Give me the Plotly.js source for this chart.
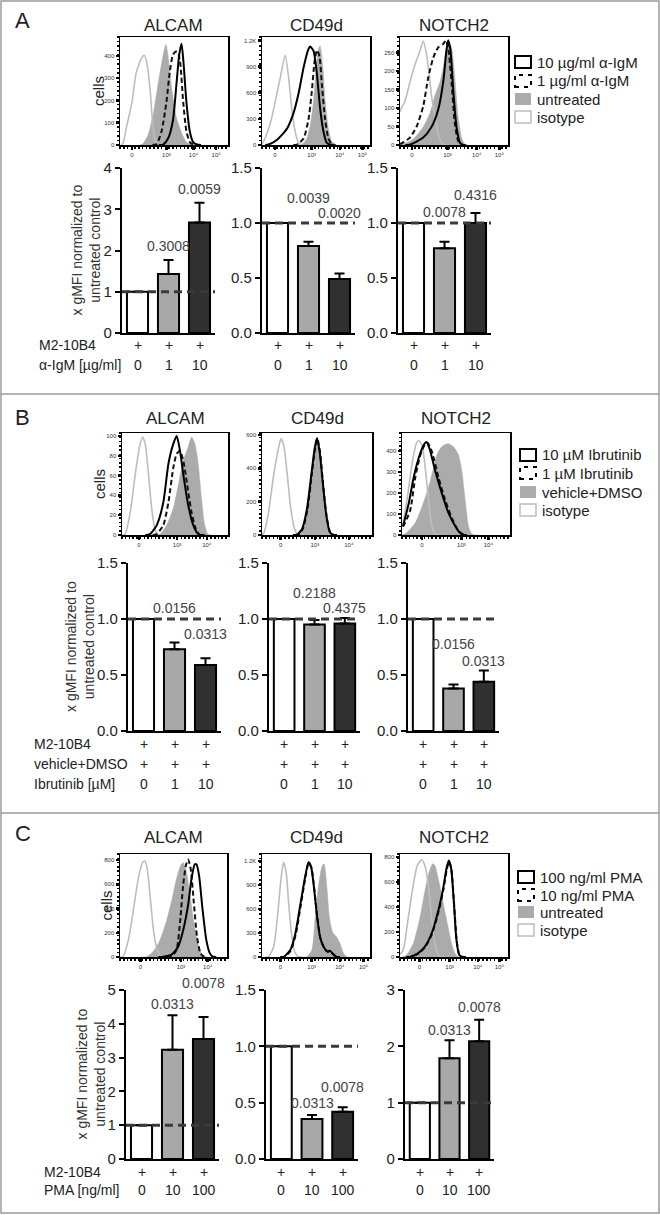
<!DOCTYPE html>
<html><head><meta charset="utf-8">
<script src="https://cdn.plot.ly/plotly-3.0.1.min.js"></script>
<style>html,body{margin:0;padding:0;background:#fff}#chart{width:660px;height:1215px}</style>
</head><body><div id="chart"></div>
<script>
// ================= DATA =================
const panelLetters = ['A', 'B', 'C'];
const markerNames = ['ALCAM', 'CD49d', 'NOTCH2'];

const legendA = ['10 µg/ml α-IgM', '1 µg/ml α-IgM', 'untreated', 'isotype'];
const legendB = ['10 µM Ibrutinib', '1 µM Ibrutinib', 'vehicle+DMSO', 'isotype'];
const legendC = ['100 ng/ml PMA', '10 ng/ml PMA', 'untreated', 'isotype'];

const rowLabelsA = ['M2-10B4', 'α-IgM [µg/ml]'];
const rowValuesA = [['+', '+', '+'], ['0', '1', '10']];
const rowLabelsB = ['M2-10B4', 'vehicle+DMSO', 'Ibrutinib [µM]'];
const rowValuesB = [['+', '+', '+'], ['+', '+', '+'], ['0', '1', '10']];
const rowLabelsC = ['M2-10B4', 'PMA [ng/ml]'];
const rowValuesC = [['+', '+', '+'], ['0', '10', '100']];

// bar charts: mean, upper error, p-values
const barA_ALCAM = [1, 1.43, 2.68], errA_ALCAM = [0, 0.34, 0.48], pA_ALCAM = ['', '0.3008', '0.0059'];
const barA_CD49d = [1, 0.79, 0.49], errA_CD49d = [0, 0.04, 0.05], pA_CD49d = ['', '0.0039', '0.0020'];
const barA_NOTCH2 = [1, 0.77, 1.0], errA_NOTCH2 = [0, 0.06, 0.09], pA_NOTCH2 = ['', '0.0078', '0.4316'];
const barB_ALCAM = [1, 0.73, 0.59], errB_ALCAM = [0, 0.06, 0.06], pB_ALCAM = ['', '0.0156', '0.0313'];
const barB_CD49d = [1, 0.95, 0.96], errB_CD49d = [0, 0.04, 0.05], pB_CD49d = ['', '0.2188', '0.4375'];
const barB_NOTCH2 = [1, 0.38, 0.44], errB_NOTCH2 = [0, 0.035, 0.10], pB_NOTCH2 = ['', '0.0156', '0.0313'];
const barC_ALCAM = [1, 3.23, 3.55], errC_ALCAM = [0, 1.02, 0.65], pC_ALCAM = ['', '0.0313', '0.0078'];
const barC_CD49d = [1, 0.355, 0.42], errC_CD49d = [0, 0.035, 0.04], pC_CD49d = ['', '0.0313', '0.0078'];
const barC_NOTCH2 = [1, 1.79, 2.09], errC_NOTCH2 = [0, 0.32, 0.38], pC_NOTCH2 = ['', '0.0313', '0.0078'];
const refLine = 1;

// bar y-axis ticks
const barYTicksA = [[0, 1, 2, 3, 4], [0, 0.5, 1, 1.5], [0, 0.5, 1, 1.5]];
const barYTicksB = [[0, 0.5, 1, 1.5], [0, 0.5, 1, 1.5], [0, 0.5, 1, 1.5]];
const barYTicksC = [[0, 1, 2, 3, 4, 5], [0, 0.5, 1, 1.5], [0, 1, 2, 3]];

// histogram tick labels
const histXTickText = ['0', '10³', '10⁴', '10⁵'];
const histYTicksA = [[0, 100, 200, 300, 400], [0, 300, 600, 900, 1200], [0, 50, 100, 150, 200, 250]];
const histYTicksB = [[0, 20, 40, 60, 80, 100], [0, 200, 400, 600], [0, 100, 200, 300, 400]];
const histYTicksC = [[0, 200, 400, 600, 800], [0, 300, 600, 900, 1200], [0, 200, 400, 600, 800]];

// histogram curves (x: position along fluorescence axis, 0-100; y: cells)
const hA_ALCAM = {
  iso:  {x: [1, 3, 6, 11, 15, 20, 22.5, 25, 28, 30, 32, 34.5, 38], y: [0, 10, 80, 190, 325, 390, 403, 365, 240, 110, 30, 0, 0]},
  ctrl: {x: [18, 21, 26, 31, 34, 37, 40, 42.5, 44.5, 47.7, 52, 57, 61.5, 66, 70], y: [0, 5, 45, 145, 235, 325, 405, 452, 400, 260, 128, 55, 13, 2, 0]},
  low:  {x: [30, 34, 38.5, 43, 46, 49, 51.7, 53.8, 56, 58.5, 61.5, 64.6, 67.7, 71], y: [0, 5, 62, 193, 325, 405, 420, 415, 357, 193, 62, 13, 2, 0]},
  high: {x: [36, 40, 44.6, 49, 52.3, 54.8, 57, 59, 61.5, 64.6, 67.7, 71.4, 75], y: [0, 2, 30, 110, 275, 405, 455, 357, 193, 62, 13, 2, 0]}
};
const hA_CD49d = {
  iso:  {x: [0, 1.5, 7.7, 12.3, 17, 21.5, 24.6, 27.7, 30.8, 33.8, 37], y: [10, 40, 250, 500, 780, 1030, 780, 400, 150, 25, 0]},
  ctrl: {x: [34, 37, 41.5, 44.6, 47.7, 50, 52.3, 53.8, 56.3, 58.5, 61.5, 64.6, 69], y: [0, 5, 75, 220, 500, 850, 1100, 1140, 900, 500, 185, 40, 0]},
  low:  {x: [29, 32.3, 38.5, 43, 46, 48.6, 50.8, 53.2, 55.4, 58.5, 61.5, 64.6, 68], y: [0, 5, 75, 290, 600, 950, 1090, 1020, 700, 290, 75, 10, 0]},
  high: {x: [3, 6, 14, 23, 29, 34, 38.5, 43, 44.6, 47.7, 50.8, 54, 57, 60, 63, 66], y: [0, 5, 60, 185, 360, 600, 890, 1100, 1130, 1080, 820, 400, 150, 25, 5, 0]}
};
const hA_NOTCH2 = {
  iso:  {x: [0, 0.6, 4.6, 9.2, 13.8, 18.5, 21.5, 24.6, 27, 29.2, 32.3, 35.4, 38.5, 41.5, 45], y: [90, 95, 119, 170, 217, 255, 281, 245, 190, 133, 77, 30, 7, 0, 0]},
  ctrl: {x: [0, 3, 12.3, 21.5, 27.7, 32.3, 37, 40, 43, 45.5, 47.7, 50.8, 53.8, 57, 60, 63], y: [0, 2, 16, 49, 86, 133, 170, 208, 264, 278, 264, 180, 77, 20, 2, 0]},
  low:  {x: [0, 3, 9.2, 15.4, 21.5, 26, 30.8, 35.4, 40, 42.5, 44.6, 47.7, 50.8, 53.8, 57, 60], y: [2, 7, 20, 50, 105, 180, 236, 264, 273, 283, 264, 170, 58, 11, 0, 0]},
  high: {x: [5, 9.2, 21.5, 29.2, 35.4, 40, 43, 44.6, 46.8, 49.2, 52.3, 55.4, 58.5, 61], y: [0, 1, 20, 49, 96, 170, 255, 283, 255, 152, 49, 7, 0, 0]}
};
const hB_ALCAM = {
  iso:  {x: [0, 3, 7.8, 12.5, 16.5, 19.4, 21.9, 25, 28, 31, 34.4, 38], y: [0, 1, 23, 61, 89, 99, 92, 61, 27, 6, 0, 0]},
  ctrl: {x: [32, 36, 42.2, 48.4, 53, 57.8, 62.5, 65.6, 68.8, 71.9, 75, 78, 81, 84], y: [0, 1, 10, 27, 50, 75, 89, 99, 92, 72, 37, 10, 1, 0]},
  low:  {x: [29, 32.8, 39, 43.8, 48.4, 51.6, 54.7, 57.8, 61.6, 65.6, 69.7, 73.4, 77], y: [0, 1, 10, 33, 68, 82, 85, 75, 50, 23, 6, 0, 0]},
  high: {x: [22, 26.5, 32.8, 39, 43.8, 48.4, 51.6, 54.7, 58.4, 62.5, 67.2, 71.9, 75, 78], y: [0, 1, 10, 33, 72, 92, 100, 85, 57, 30, 10, 1, 0, 0]}
};
const hB_CD49d = {
  iso:  {x: [0, 2, 6, 10.6, 15, 17.3, 19.7, 22.7, 25.8, 28.8, 31.8, 34.8, 38], y: [0, 16, 137, 360, 521, 578, 541, 380, 178, 57, 6, 0, 0]},
  ctrl: {x: [30, 31.8, 36.4, 40.9, 44.8, 47.9, 50, 52.4, 55.5, 58.5, 61.5, 64.5, 68], y: [0, 0, 30, 150, 350, 510, 575, 500, 290, 110, 18, 0, 0]},
  low:  {x: [30, 33, 37, 41.5, 45.2, 48.2, 50.3, 52.8, 55.8, 58.8, 61.8, 64.8, 68], y: [0, 2, 35, 160, 360, 515, 578, 495, 285, 110, 20, 2, 0]},
  high: {x: [28, 31.8, 36.4, 40.9, 44.8, 47.9, 50, 52.4, 55.5, 58.5, 61.5, 64.5, 68], y: [0, 2, 36, 158, 360, 521, 582, 500, 299, 117, 20, 2, 0]}
};
const hB_NOTCH2 = {
  iso:  {x: [0, 1, 4.6, 9.2, 13.2, 15.4, 18.5, 21.5, 24.6, 27.7, 30.8, 33.8, 37], y: [40, 58, 166, 335, 435, 450, 428, 320, 166, 43, 5, 0, 0]},
  ctrl: {x: [0, 4.6, 12.3, 18.5, 24.6, 29.2, 32.3, 35.4, 38.5, 43, 47.7, 52.3, 55.4, 58.5, 61.5, 64.6, 67.7, 71], y: [0, 12, 58, 135, 228, 320, 382, 412, 428, 435, 420, 382, 305, 166, 43, 5, 0, 0]},
  low:  {x: [1, 3, 7.7, 12.3, 17, 21.5, 23.7, 27.7, 33.8, 40, 46.2, 52.3, 57, 60], y: [40, 60, 120, 274, 382, 435, 440, 397, 274, 166, 80, 20, 2, 0]},
  high: {x: [1, 6.2, 10.8, 15.4, 20, 22.5, 25.5, 30.8, 37, 43, 49.2, 53.8, 57, 60], y: [43, 150, 274, 366, 428, 443, 412, 305, 197, 105, 43, 9, 0, 0]}
};
const hC_ALCAM = {
  iso:  {x: [0, 3, 7.8, 12.4, 17, 21, 23.3, 25.5, 28.6, 31.7, 34.8, 37.9, 40.4, 44], y: [0, 5, 139, 379, 645, 779, 792, 725, 459, 192, 59, 11, 0, 0]},
  ctrl: {x: [20, 24.8, 31, 37.3, 43.5, 48.1, 52.8, 56.5, 59, 61.5, 64.6, 68.3, 72, 76, 80.7, 84], y: [0, 2, 45, 139, 299, 459, 645, 752, 779, 725, 565, 325, 139, 32, 2, 0]},
  low:  {x: [44, 48.1, 52.8, 56.5, 59, 61.5, 63.7, 66.1, 68.9, 72, 75.2, 78.3, 81], y: [0, 2, 59, 325, 592, 752, 805, 725, 459, 165, 32, 2, 0]},
  high: {x: [36, 40.4, 48.1, 54.3, 59, 63.7, 66.8, 69.9, 71.4, 73.9, 77, 80.7, 83.9, 87, 90], y: [0, 2, 19, 85, 219, 432, 645, 765, 765, 672, 405, 139, 32, 2, 0]}
};
const hC_CD49d = {
  iso:  {x: [3, 6.2, 10.8, 14.8, 17.5, 20, 22.5, 24.6, 27.7, 30.8, 33.8, 37], y: [0, 5, 128, 568, 968, 1188, 1048, 688, 248, 48, 5, 0]},
  ctrl: {x: [38, 41.5, 46.2, 49.2, 52.3, 55.4, 57.5, 60, 62.5, 65.5, 69.2, 72.3, 75.4, 78.5, 81], y: [0, 2, 88, 488, 888, 1128, 1168, 888, 488, 308, 248, 168, 48, 2, 0]},
  low:  {x: [17, 20.5, 26.5, 31.2, 35.8, 40.2, 43.2, 45.7, 48.5, 51, 54, 57.2, 60.8, 63.2, 65.7, 69.4, 72], y: [0, 2, 80, 280, 640, 1000, 1180, 1120, 840, 520, 240, 125, 65, 75, 38, 2, 0]},
  high: {x: [17, 20, 26.2, 30.8, 35.4, 40, 43, 45.5, 48.3, 50.8, 53.8, 57, 60.6, 63, 65.5, 69.2, 72], y: [0, 2, 88, 288, 648, 1008, 1188, 1128, 848, 528, 248, 128, 68, 80, 40, 2, 0]}
};
const hC_NOTCH2 = {
  iso:  {x: [0, 3, 7.7, 12.3, 16, 20, 23, 26.2, 29.2, 32.3, 35.4, 38.5, 42], y: [20, 57, 317, 577, 733, 780, 733, 577, 317, 109, 18, 0, 0]},
  ctrl: {x: [2, 6.2, 12.3, 18.5, 23, 27, 30.2, 32.3, 35.4, 38.5, 41.5, 44.6, 47.7, 50.8, 53.8, 57], y: [0, 18, 109, 317, 525, 681, 746, 733, 629, 499, 369, 239, 109, 31, 2, 0]},
  low:  {x: [6, 9.5, 17.2, 23.3, 29.5, 35.7, 40.3, 43.3, 45.4, 47.6, 50, 52.5, 55, 58, 61], y: [0, 1, 28, 80, 182, 362, 545, 700, 765, 700, 440, 130, 16, 1, 0]},
  high: {x: [6, 9.2, 16.9, 23, 29.2, 35.4, 40, 43, 45.2, 47.4, 49.8, 52.3, 54.8, 57.8, 61], y: [0, 1, 31, 83, 187, 369, 551, 707, 772, 707, 447, 135, 18, 1, 0]}
};

// ================= LAYOUT CONFIG (pixel geometry & styles) =================
const W = 660, H = 1215;
const PX = x => x / W;
const PY = y => 1 - y / H;
const FONT = 'Arial, "Liberation Sans", Helvetica, sans-serif';

const panels = [
  {letterY: 21, titleY: 25, hTop: 37, hBot: 145, bTop: 168, bBot: 333, rowsY: [345, 365], rowLabelX: 37,
   legX: 515, legY: [62, 81, 99, 117], hx: [[120, 228], [262, 370], [400, 508]], bx: [[122, 215], [262, 355], [398, 491]],
   ytX: 86, cellsX: 99, yRange: [485, 1240, 292], xt: [[11, 43, 68, 89], [12, 46, 72, 93], [11, 44, 71, 92]],
   bRange: [4, 1.5, 1.5], pY: [[0, 2.1, 3.48], [0, 1.23, 1.09], [0, 1.10, 1.25]]},
  {letterY: 417, titleY: 418, hTop: 433, hBot: 535, bTop: 563, bBot: 731, rowsY: [744, 764, 784], rowLabelX: 32,
   legX: 520, legY: [455, 473, 492, 510], hx: [[122, 228], [262, 372], [402, 510]], bx: [[128, 221], [269, 360], [408, 499]],
   ytX: 80, cellsX: 99, yRange: [103, 612, 486], xt: [[16, 52, 80], [17, 48, 79], [18.5, 55, 80]],
   bRange: [1.5, 1.5, 1.5], pY: [[0, 1.10, 0.865], [0, 1.235, 1.10], [0, 0.776, 0.624]]},
  {letterY: 833, titleY: 838, hTop: 854, hBot: 957, bTop: 990, bBot: 1159, rowsY: [1172, 1190], rowLabelX: 42,
   legX: 518, legY: [877, 895, 912, 930], hx: [[120, 227], [262, 370], [400, 508]], bx: [[126, 219], [266, 358], [405, 494]],
   ytX: 90, cellsX: 106, yRange: [850, 1290, 825], xt: [[19, 57, 82], [17, 46, 72, 94], [18, 46, 72, 92]],
   bRange: [5, 1.5, 3], pY: [[0, 4.6, 5.22], [0, 0.497, 0.64], [0, 2.29, 2.69]]}
];

const hists = [[hA_ALCAM, hA_CD49d, hA_NOTCH2], [hB_ALCAM, hB_CD49d, hB_NOTCH2], [hC_ALCAM, hC_CD49d, hC_NOTCH2]];
const histYTicks = [histYTicksA, histYTicksB, histYTicksC];
const bars = [[barA_ALCAM, barA_CD49d, barA_NOTCH2], [barB_ALCAM, barB_CD49d, barB_NOTCH2], [barC_ALCAM, barC_CD49d, barC_NOTCH2]];
const errs = [[errA_ALCAM, errA_CD49d, errA_NOTCH2], [errB_ALCAM, errB_CD49d, errB_NOTCH2], [errC_ALCAM, errC_CD49d, errC_NOTCH2]];
const pvals = [[pA_ALCAM, pA_CD49d, pA_NOTCH2], [pB_ALCAM, pB_CD49d, pB_NOTCH2], [pC_ALCAM, pC_CD49d, pC_NOTCH2]];
const barYTicks = [barYTicksA, barYTicksB, barYTicksC];
const legends = [legendA, legendB, legendC];
const rowLabels = [rowLabelsA, rowLabelsB, rowLabelsC];
const rowValues = [rowValuesA, rowValuesB, rowValuesC];

const C_FILL = '#ababab', C_ISO = '#bdbdbd', C_BAR = ['#ffffff', '#a8a8a8', '#303030'];

const traces = [];
const layout = {
  width: W, height: H, margin: {l: 0, r: 0, t: 0, b: 0},
  paper_bgcolor: '#fff', plot_bgcolor: 'rgba(0,0,0,0)', showlegend: false,
  font: {family: FONT, color: '#222'},
  annotations: [], shapes: []
};
const ax = n => (n === 1 ? '' : String(n));

function fmtTick(v, decimals) { return decimals ? v.toFixed(1) : String(v); }

panels.forEach((P, p) => {
  layout.annotations.push({text: panelLetters[p], x: PX(13), y: PY(P.letterY), xref: 'paper', yref: 'paper',
    xanchor: 'left', yanchor: 'middle', showarrow: false, font: {size: 22, color: '#222'}});
  layout.annotations.push({text: 'cells', x: PX(P.cellsX), y: PY((P.hTop + P.hBot) / 2), xref: 'paper', yref: 'paper',
    xanchor: 'center', yanchor: 'middle', textangle: -90, showarrow: false, font: {size: 15, color: '#222'}});
  layout.annotations.push({text: 'x gMFI normalized to<br>untreated control', x: PX(P.ytX), y: PY((P.bTop + P.bBot) / 2),
    xref: 'paper', yref: 'paper', xanchor: 'center', yanchor: 'middle', textangle: -90, showarrow: false,
    font: {size: 14, color: '#333'}});

  markerNames.forEach((name, m) => {
    const hn = p * 3 + m + 1, bn = hn + 9;
    const [hx0, hx1] = P.hx[m];
    layout.annotations.push({text: name, x: PX((hx0 + hx1) / 2), y: PY(P.titleY), xref: 'paper', yref: 'paper',
      xanchor: 'center', yanchor: 'middle', showarrow: false, font: {size: 17, color: '#222'}});
    const h = hists[p][m];
    const common = {xaxis: 'x' + ax(hn), yaxis: 'y' + ax(hn), mode: 'lines', hoverinfo: 'skip'};
    traces.push(Object.assign({x: h.ctrl.x, y: h.ctrl.y, fill: 'tozeroy', fillcolor: C_FILL,
      line: {color: C_FILL, width: 0.5, shape: 'spline', smoothing: 0.6}}, common));
    traces.push(Object.assign({x: h.iso.x, y: h.iso.y, line: {color: C_ISO, width: 1.6, shape: 'spline', smoothing: 0.6}}, common));
    traces.push(Object.assign({x: h.low.x, y: h.low.y, line: {color: '#111', width: 2, dash: '5px,3px', shape: 'spline', smoothing: 0.6}}, common));
    traces.push(Object.assign({x: h.high.x, y: h.high.y, line: {color: '#000', width: 2, shape: 'spline', smoothing: 0.6}}, common));

    const yt = histYTicks[p][m];
    const xt = P.xt[m];
    layout['xaxis' + ax(hn)] = {domain: [PX(hx0), PX(hx1)], anchor: 'y' + ax(hn), range: [0, 100],
      tickmode: 'array', tickvals: xt, ticktext: histXTickText.slice(0, xt.length),
      tickfont: {size: 6, color: '#333'}, ticks: 'outside', ticklen: 3, tickwidth: 2.5, tickcolor: '#000',
      showline: true, linecolor: '#000', linewidth: 1.5, mirror: true, showgrid: false, zeroline: false, fixedrange: true,
      minor: {ticks: 'outside', ticklen: 2, tickwidth: 1.5, tickcolor: '#000', tickmode: 'linear', tick0: 0, dtick: 3.5}};
    layout['yaxis' + ax(hn)] = {domain: [PY(P.hBot), PY(P.hTop)], anchor: 'x' + ax(hn), range: [0, P.yRange[m]],
      tickmode: 'array', tickvals: yt, ticktext: yt.map(v => (v >= 1000 ? (v / 1000).toFixed(1) + 'K' : String(v))),
      tickfont: {size: 6, color: '#333'}, ticks: 'outside', ticklen: 3, tickwidth: 2.5, tickcolor: '#000',
      showline: true, linecolor: '#000', linewidth: 1.5, mirror: true, showgrid: false, zeroline: false, fixedrange: true,
      minor: {ticks: 'outside', ticklen: 2, tickwidth: 1.5, tickcolor: '#000', tickmode: 'linear', tick0: 0, dtick: P.yRange[m] / 24}};

    const [bx0, bx1] = P.bx[m];
    traces.push({type: 'bar', x: [0, 1, 2], y: bars[p][m], width: 0.68, xaxis: 'x' + bn, yaxis: 'y' + bn, hoverinfo: 'skip',
      marker: {color: C_BAR, line: {color: '#000', width: 2}},
      error_y: {type: 'data', array: errs[p][m], arrayminus: [0, 0, 0], symmetric: false, visible: true,
        color: '#000', thickness: 2, width: 5}});
    const byt = barYTicks[p][m];
    const dec = byt.some(v => v % 1 !== 0);
    layout['xaxis' + bn] = {domain: [PX(bx0), PX(bx1)], anchor: 'y' + bn, range: [-0.5, 2.5], showticklabels: false,
      ticks: '', showline: true, linecolor: '#000', linewidth: 2.2, showgrid: false, zeroline: false, fixedrange: true};
    layout['yaxis' + bn] = {domain: [PY(P.bBot), PY(P.bTop)], anchor: 'x' + bn, range: [0, P.bRange[m]],
      tickmode: 'array', tickvals: byt, ticktext: byt.map(v => fmtTick(v, dec)), tickfont: {size: 15, color: '#222'},
      ticks: 'outside', ticklen: 5, tickwidth: 2, tickcolor: '#000', showline: true, linecolor: '#000', linewidth: 2.2,
      showgrid: false, zeroline: false, fixedrange: true};
    layout.shapes.push({type: 'line', xref: 'x' + bn, yref: 'y' + bn, x0: -0.5, x1: 2.5, y0: refLine, y1: refLine,
      line: {color: '#3a3a3a', width: 3, dash: '8px,5px'}, layer: 'above'});
    // p values: positioned in paper space (converted from the bar value scale) so labels above the axis top still show
    pvals[p][m].forEach((t, i) => {
      if (!t) return;
      const ypx = P.bBot - (P.pY[m][i] / P.bRange[m]) * (P.bBot - P.bTop);
      layout.annotations.push({text: t, x: i, y: PY(ypx), xref: 'x' + bn, yref: 'paper', xanchor: 'center',
        yanchor: 'middle', showarrow: false, font: {size: 14, color: '#444'}});
    });
    rowValues[p].forEach((row, r) => {
      row.forEach((t, i) => {
        layout.annotations.push({text: t, x: i, y: PY(P.rowsY[r]), xref: 'x' + bn, yref: 'paper', xanchor: 'center',
          yanchor: 'middle', showarrow: false, font: {size: 14, color: '#222'}});
      });
    });
  });

  rowLabels[p].forEach((t, r) => {
    layout.annotations.push({text: t, x: PX(P.rowLabelX), y: PY(P.rowsY[r]), xref: 'paper', yref: 'paper',
      xanchor: 'left', yanchor: 'middle', showarrow: false, font: {size: 14, color: '#222'}});
  });

  const legStyles = [
    {line: {color: '#000', width: 2}, fillcolor: '#fff'},
    {line: {color: '#000', width: 2, dash: '4px,5px'}, fillcolor: '#fff'},
    {line: {color: C_FILL, width: 0}, fillcolor: C_FILL},
    {line: {color: C_ISO, width: 1.5}, fillcolor: '#fff'}
  ];
  legends[p].forEach((t, i) => {
    const yc = P.legY[i];
    layout.shapes.push(Object.assign({type: 'rect', xref: 'paper', yref: 'paper',
      x0: PX(P.legX), x1: PX(P.legX + 16), y0: PY(yc + 6), y1: PY(yc - 6)}, legStyles[i]));
    layout.annotations.push({text: t, x: PX(P.legX + 20), y: PY(yc), xref: 'paper', yref: 'paper', xanchor: 'left',
      yanchor: 'middle', showarrow: false, font: {size: 15, color: '#222'}});
  });
});

layout.shapes.push({type: 'rect', xref: 'paper', yref: 'paper', x0: PX(1), x1: PX(659), y0: PY(1213), y1: PY(1),
  line: {color: '#9a9a9a', width: 1.5}});
[394, 813].forEach(yy => layout.shapes.push({type: 'line', xref: 'paper', yref: 'paper', x0: PX(1), x1: PX(659),
  y0: PY(yy), y1: PY(yy), line: {color: '#9a9a9a', width: 1.5}}));

Plotly.newPlot('chart', traces, layout, {displayModeBar: false, staticPlot: true});
</script></body></html>
